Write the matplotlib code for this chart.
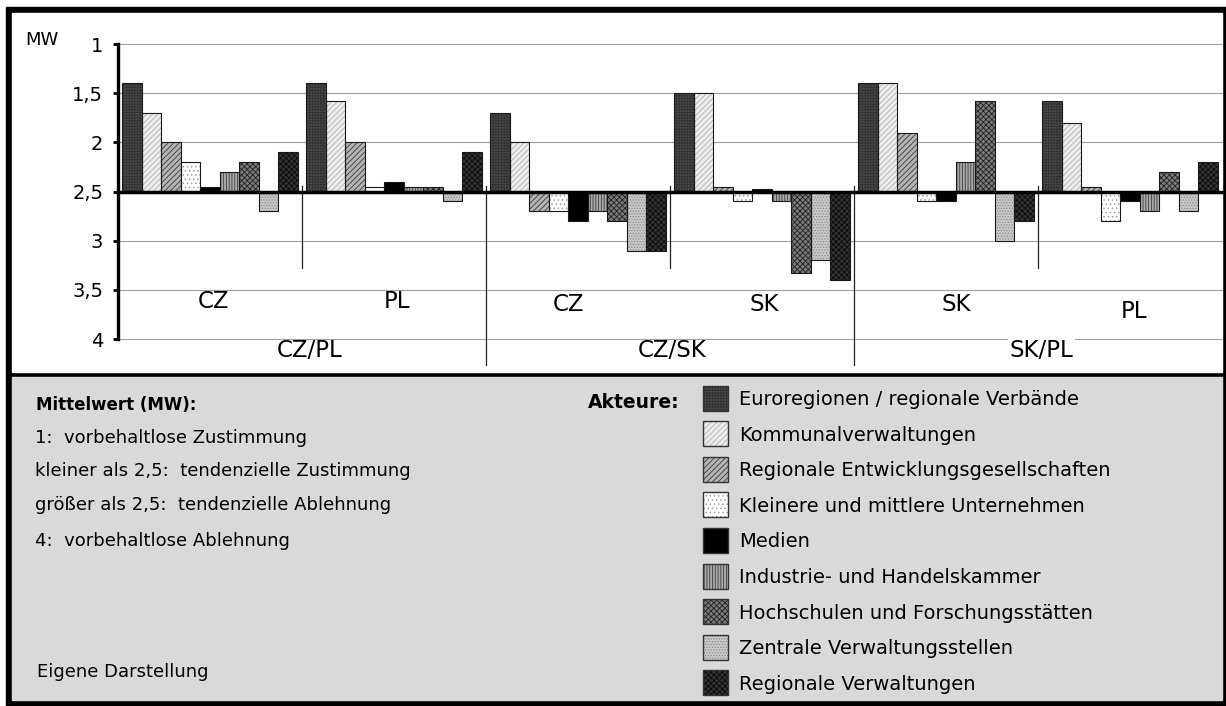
import matplotlib
matplotlib.use("Agg")
import matplotlib.pyplot as plt
from matplotlib.patches import Rectangle

plt.rcParams['font.family'] = ['DejaVu Sans']
plt.rcParams['hatch.linewidth'] = 0.6

# ---- data -------------------------------------------------------------
subgroups = ["CZ", "PL", "CZ", "SK", "SK", "PL"]
pairs = ["CZ/PL", "CZ/SK", "SK/PL"]

actors = [
    "Euroregionen / regionale Verbände",
    "Kommunalverwaltungen",
    "Regionale Entwicklungsgesellschaften",
    "Kleinere und mittlere Unternehmen",
    "Medien",
    "Industrie- und Handelskammer",
    "Hochschulen und Forschungsstätten",
    "Zentrale Verwaltungsstellen",
    "Regionale Verwaltungen",
]

euroregionen = [1.40, 1.40, 1.70, 1.50, 1.40, 1.58]
kommunal = [1.70, 1.58, 2.00, 1.50, 1.40, 1.80]
entwicklung = [2.00, 2.00, 2.70, 2.45, 1.90, 2.45]
kmu = [2.20, 2.45, 2.70, 2.60, 2.60, 2.80]
medien = [2.45, 2.40, 2.80, 2.47, 2.60, 2.60]
ihk = [2.30, 2.45, 2.70, 2.60, 2.20, 2.70]
hochschulen = [2.20, 2.45, 2.80, 3.33, 1.58, 2.30]
zentrale = [2.70, 2.60, 3.10, 3.20, 3.00, 2.70]
reg_verwaltung = [2.10, 2.10, 3.10, 3.40, 2.80, 2.20]

series = [euroregionen, kommunal, entwicklung, kmu, medien, ihk,
          hochschulen, zentrale, reg_verwaltung]

ytick_values = [1, 1.5, 2, 2.5, 3, 3.5, 4]
ytick_labels = ["1", "1,5", "2", "2,5", "3", "3,5", "4"]
neutral = 2.5

notes = [
    "1:  vorbehaltlose Zustimmung",
    "kleiner als 2,5:  tendenzielle Zustimmung",
    "größer als 2,5:  tendenzielle Ablehnung",
    "4:  vorbehaltlose Ablehnung",
]

# ---- styles (face colour, hatch, hatch colour) -------------------------
styles = [
    ("#4a4a4a", "++++++", "#303030"),
    ("#ececec", "//////", "#b0b0b0"),
    ("#b4b4b4", "//////", "#3c3c3c"),
    ("#ffffff", "....", "#a0a0a0"),
    ("#000000", None, "#000000"),
    ("#a8a8a8", "||||||", "#404040"),
    ("#7a7a7a", "xxxxxx", "#222222"),
    ("#c8c8c8", "......", "#8a8a8a"),
    ("#333333", "xxxxxx", "#0a0a0a"),
]
outline = "#1a1a1a"

W, H = 1226, 706
fig = plt.figure(figsize=(W / 100, H / 100), dpi=100)

# background frame and panels, in pixel coordinates
bg = fig.add_axes([0, 0, 1, 1], zorder=0)
bg.set_xlim(0, W)
bg.set_ylim(H, 0)
bg.axis("off")
bg.add_patch(Rectangle((6, 7), W - 6, H - 7, color="black"))
bg.add_patch(Rectangle((12, 13), 1210, 359, color="white"))
bg.add_patch(Rectangle((12, 377), 1210, 323, color="#d9d9d9"))

# ---- main chart -------------------------------------------------------
top_px, bot_px, left_px, right_px = 44, 339, 118, 1222
ax = fig.add_axes([left_px / W, (H - bot_px) / H,
                   (right_px - left_px) / W, (bot_px - top_px) / H], zorder=1)
ax.patch.set_visible(False)
ax.set_xlim(0, len(subgroups))
ax.set_ylim(4, 1)
for s in ("top", "right", "bottom"):
    ax.spines[s].set_visible(False)
ax.spines["left"].set_linewidth(2.4)
ax.spines["left"].set_color("black")
ax.set_xticks([])
ax.set_yticks(ytick_values)
ax.set_yticklabels(ytick_labels)
ax.tick_params(axis="y", length=3.6, width=2, pad=7, labelsize=14)

for yv in ytick_values:
    if yv != neutral:
        ax.axhline(yv, color="#a0a0a0", lw=0.8, zorder=0.5, clip_on=False)

bw = 0.106
n = len(series)
for i, vals in enumerate(series):
    face, hatch, hcol = styles[i]
    xs = [c + 0.5 + (i - (n - 1) / 2) * bw for c in range(len(subgroups))]
    heights = [v - neutral for v in vals]
    ax.bar(xs, heights, bottom=neutral, width=bw, color=face, hatch=hatch,
           edgecolor=hcol, lw=0, zorder=2)
    ax.bar(xs, heights, bottom=neutral, width=bw, fill=False,
           edgecolor=outline, lw=0.8, zorder=2.1)

ax.axhline(neutral, color="black", lw=2.5, zorder=3, clip_on=False)

# separators between country columns and between country pairs
for xb in (1, 3, 5):
    ax.plot([xb, xb], [2.444, 3.278], color="#222222", lw=0.9,
            zorder=1.5, clip_on=False)
for xb in (2, 4):
    ax.plot([xb, xb], [2.444, 4.265], color="#222222", lw=0.9,
            zorder=1.5, clip_on=False)

sub_x = [0.52, 1.516, 2.446, 3.511, 4.554, 5.522]
sub_y = [3.685, 3.685, 3.715, 3.715, 3.715, 3.787]
for name, x, y in zip(subgroups, sub_x, sub_y):
    ax.text(x, y, name, ha="center", va="baseline", fontsize=16.5,
            clip_on=False)

pair_x = [1.04, 3.01, 5.02]
for k, (name, x) in enumerate(zip(pairs, pair_x)):
    box = dict(facecolor="white", edgecolor="none", pad=1) if k == 2 else None
    ax.text(x, 4.183, name, ha="center", va="baseline", fontsize=16.5,
            clip_on=False, bbox=box)

bg.text(25, 45, "MW", fontsize=13, va="baseline")

# ---- explanation panel -----------------------------------------------
bg.text(36, 410, "Mittelwert (MW):", fontsize=12, fontweight="bold",
        va="baseline")
for line, yb in zip(notes, [443, 476.5, 510, 546.5]):
    bg.text(35, yb, line, fontsize=13, va="baseline")
bg.text(37, 677, "Eigene Darstellung", fontsize=13, va="baseline")

# ---- legend -----------------------------------------------------------
bg.text(588, 407.5, "Akteure:", fontsize=13.5, fontweight="bold",
        va="baseline")
for i, name in enumerate(actors):
    face, hatch, hcol = styles[i]
    cy = 398 + 35.6 * i
    bg.add_patch(Rectangle((703, cy - 12.5), 25, 25, facecolor=face,
                           hatch=hatch, edgecolor=hcol, lw=0))
    bg.add_patch(Rectangle((703, cy - 12.5), 25, 25, fill=False,
                           edgecolor="#333333", lw=1.0))
    bg.text(739, cy + 7, name, fontsize=14, va="baseline")

fig.savefig("out.png", dpi=100)
